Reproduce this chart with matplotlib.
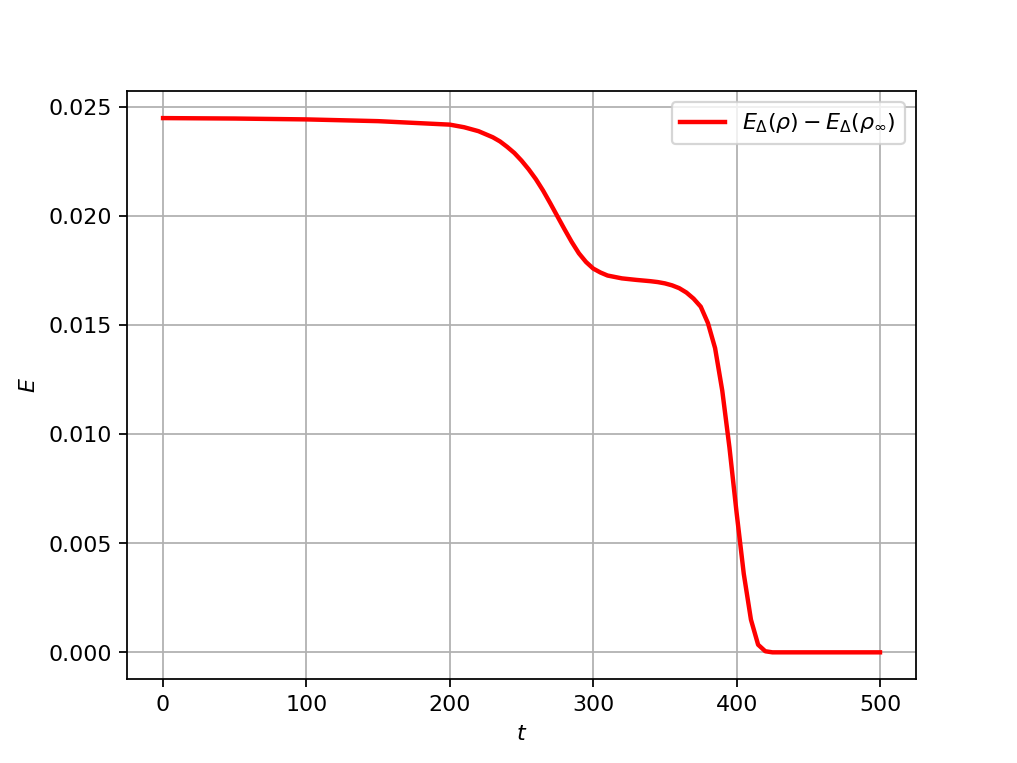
import matplotlib
matplotlib.use("Agg")
import matplotlib.pyplot as plt

t = [0, 50, 100, 150, 200, 210, 220, 230, 235, 240, 245, 250, 255, 260, 265,
     270, 275, 280, 285, 290, 295, 300, 305, 310, 320, 330, 340, 345, 350,
     355, 360, 365, 370, 375, 380, 385, 390, 395, 400, 405, 410, 415, 420,
     425, 430, 500]
E = [0.02450, 0.02448, 0.02444, 0.02436, 0.02420, 0.02408, 0.02390, 0.02362,
     0.02343, 0.02318, 0.02290, 0.02255, 0.02215, 0.02170, 0.02118, 0.02060,
     0.02000, 0.01940, 0.01882, 0.01830, 0.01790, 0.01760, 0.01742, 0.01728,
     0.01715, 0.01708, 0.01702, 0.01698, 0.01692, 0.01683, 0.01670, 0.01650,
     0.01622, 0.01585, 0.01510, 0.01395, 0.01200, 0.00940, 0.00640, 0.00360,
     0.00150, 0.00035, 0.00005, 0.0, 0.0, 0.0]

fig = plt.figure(figsize=(6.4, 4.8), dpi=159)
plt.plot(t, E, color='red', linewidth=2,
         label=r'$E_\Delta(\rho) - E_\Delta(\rho_\infty)$')
plt.xlabel(r'$t$')
plt.ylabel(r'$E$')
plt.grid(True)
plt.legend(loc='upper right')
plt.savefig("out.png", dpi=159)
